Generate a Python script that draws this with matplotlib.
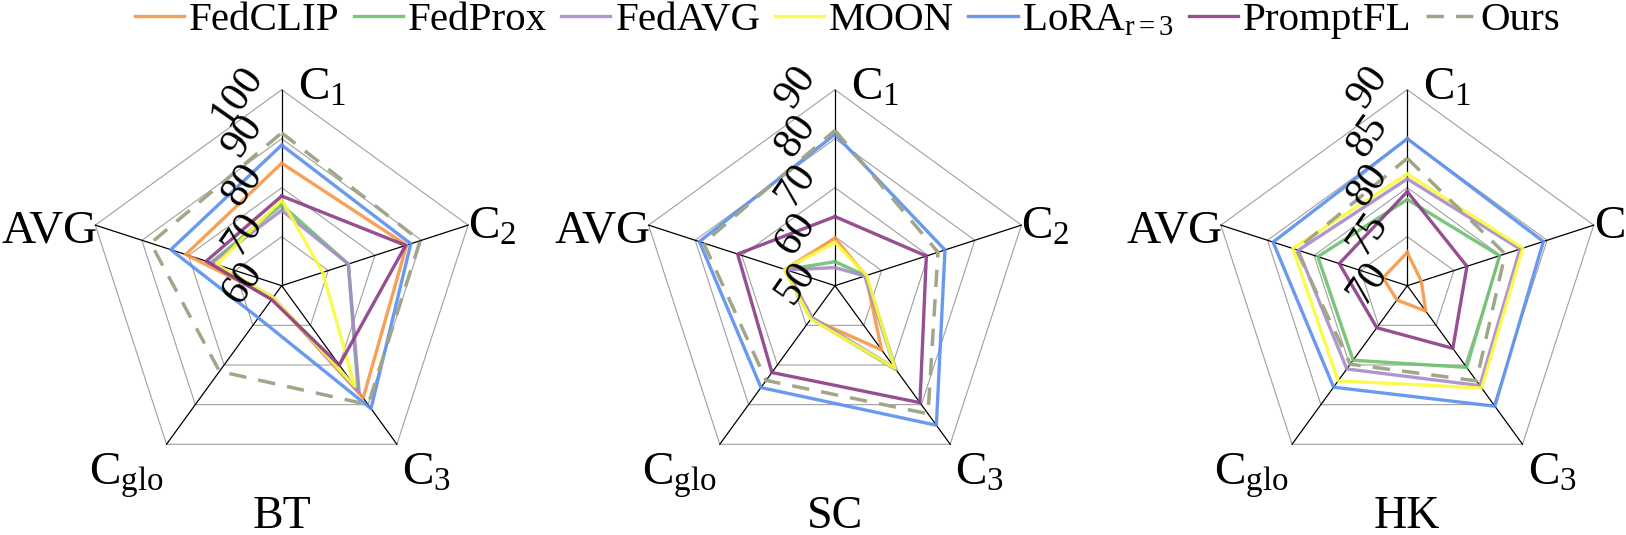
import numpy as np
import matplotlib
matplotlib.use('Agg')
import matplotlib.pyplot as plt

plt.rcParams['font.family'] = ['Liberation Serif', 'DejaVu Serif']
plt.rcParams['mathtext.fontset'] = 'custom'
plt.rcParams['mathtext.rm'] = 'Liberation Serif'
plt.rcParams['mathtext.it'] = 'Liberation Serif:italic'

# axis order: C1, C2, C3, Cglo, AVG
axis_labels = ['C$_1$', 'C$_2$', 'C$_3$', 'C$_{\\mathrm{glo}}$', 'AVG']
methods = ['FedCLIP', 'FedProx', 'FedAVG', 'MOON', 'LoRA$_{\\mathrm{r=3}}$', 'PromptFL', 'Ours']

# BT
bt_fedclip = [85.0, 86.8, 88.3, 63.1, 80.6]
bt_fedprox = [76.5, 74.3, 86.5, 63.0, 75.2]
bt_fedavg = [75.4, 74.3, 86.9, 63.0, 75.0]
bt_moon = [77.5, 68.8, 85.4, 63.0, 74.0]
bt_lora = [88.7, 87.7, 91.0, 68.1, 83.8]
bt_promptfl = [78.3, 86.6, 80.0, 63.5, 76.2]
bt_ours = [91.2, 89.7, 90.0, 81.6, 88.1]
bt_ticks = [60, 70, 80, 90, 100]

# SC
sc_fedclip = [59.7, 56.6, 66.2, 58.3, 60.8]
sc_fedprox = [54.9, 56.6, 71.2, 58.3, 60.6]
sc_fedavg = [53.7, 56.4, 70.8, 58.0, 60.4]
sc_moon = [58.8, 56.8, 70.8, 58.4, 60.9]
sc_lora = [80.9, 73.6, 85.2, 75.7, 79.1]
sc_promptfl = [64.1, 69.6, 79.5, 71.9, 70.9]
sc_ours = [81.7, 72.1, 82.3, 73.9, 78.2]
sc_ticks = [50, 60, 70, 80, 90]

# HK
hk_fedclip = [73.4, 71.5, 73.2, 71.8, 72.6]
hk_fedprox = [78.8, 79.9, 80.3, 79.4, 79.6]
hk_fedavg = [80.9, 82.1, 82.6, 80.5, 81.7]
hk_moon = [81.4, 82.4, 82.9, 82.0, 82.3]
hk_lora = [85.0, 84.6, 85.2, 82.8, 84.4]
hk_promptfl = [79.6, 76.4, 77.9, 75.3, 77.3]
hk_ours = [83.0, 80.5, 82.0, 79.9, 81.9]
hk_ticks = [70, 75, 80, 85, 90]

colors = ['#F79646', '#6CC06C', '#A78BC9', '#FAFA3C', '#5A8FEE', '#8B3C87', '#A0A687']

panels = [
    ('BT', bt_ticks, [bt_fedclip, bt_fedprox, bt_fedavg, bt_moon, bt_lora, bt_promptfl, bt_ours]),
    ('SC', sc_ticks, [sc_fedclip, sc_fedprox, sc_fedavg, sc_moon, sc_lora, sc_promptfl, sc_ours]),
    ('HK', hk_ticks, [hk_fedclip, hk_fedprox, hk_fedavg, hk_moon, hk_lora, hk_promptfl, hk_ours]),
]

W, H = 1626, 535
centers_x = [281.7, 835.0, 1407.3]
cy = 285.7
R = 196

fig = plt.figure(figsize=(W / 100, H / 100), dpi=100)

theta = np.deg2rad(np.arange(5) * 72.0)
theta_c = np.append(theta, theta[0])

# label offsets in pixels: (dx, dy, ha)
lab_off = [(16, -10, 'left'), (0, -14, 'left'), (5, -40, 'left'), (-3, -40, 'right'), (2, -17, 'right')]

handles = []
for (name, ticks, series), cx in zip(panels, centers_x):
    ax = fig.add_axes([(cx - R) / W, (H - cy - R) / H, 2 * R / W, 2 * R / H], projection='polar')
    ax.set_theta_offset(np.pi / 2)
    ax.set_theta_direction(-1)
    lo, hi = ticks[0], ticks[-1]
    ax.set_ylim(lo, hi)
    ax.set_xticks([])
    ax.set_yticks([])
    ax.grid(False)
    ax.spines['polar'].set_visible(False)
    ax.patch.set_alpha(0)

    # pentagon rings
    for t in ticks[1:]:
        ax.plot(theta_c, [t] * 6, color='#A0A0A0', lw=0.8, clip_on=False, zorder=1)
    # spokes
    for a in theta:
        ax.plot([a, a], [lo, hi], color='black', lw=0.9, clip_on=False, zorder=1)

    for i, vals in enumerate(series):
        v = np.append(vals, vals[0])
        if i == 6:
            ln, = ax.plot(theta_c, v, color=colors[i], lw=2.5, ls=(0, (5, 3.5)), clip_on=False, zorder=3)
        else:
            ln, = ax.plot(theta_c, v, color=colors[i], lw=2.4, alpha=0.9, clip_on=False, zorder=2)
        if name == 'BT':
            handles.append(ln)

    # tick labels
    for t in ticks:
        ax.annotate(str(t), xy=(0, t), xytext=(-27, 20), textcoords='offset pixels',
                    ha='right', va='center', rotation=55, rotation_mode='anchor',
                    fontsize=30, zorder=5, annotation_clip=False)

    # axis labels
    for a, lab, (dx, dy, ha) in zip(theta, axis_labels, lab_off):
        ax.annotate(lab, xy=(a, hi), xytext=(dx, dy), textcoords='offset pixels',
                    ha=ha, va='baseline', fontsize=34, annotation_clip=False)

    fig.text(cx / W, 1 - 528 / H, name, ha='center', va='baseline', fontsize=33)

fig.legend(handles, methods, loc='upper center', bbox_to_anchor=(0.521, 1.035), ncol=7,
           frameon=False, fontsize=29.5, handlelength=1.2, handletextpad=0.12,
           columnspacing=0.35, borderaxespad=0.1)

fig.savefig('out.png', dpi=100)
